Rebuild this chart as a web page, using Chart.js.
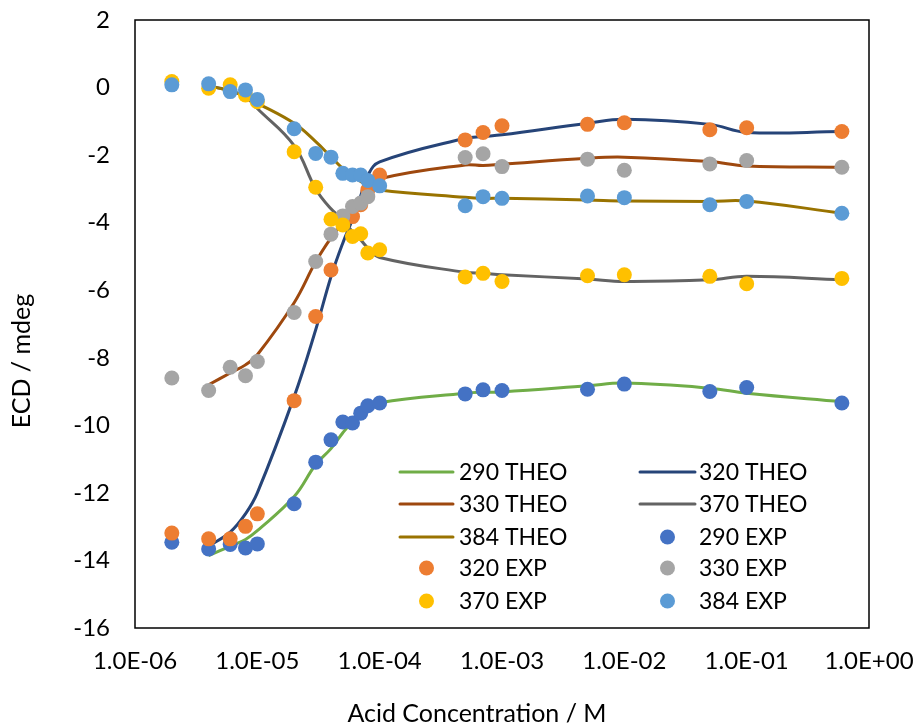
<!DOCTYPE html>
<html>
<head>
<meta charset="utf-8">
<script src="https://cdn.jsdelivr.net/npm/chart.js@4"></script>
<style>
  html, body { margin: 0; padding: 0; background: #fff; }
</style>
</head>
<body>
<canvas id="myChart" width="915" height="728"></canvas>
<script>
// acid concentration (M) of the measured points
const expConc = [2e-6, 4e-6, 6e-6, 8e-6, 1e-5, 2e-5, 3e-5, 4e-5, 5e-5, 6e-5, 7e-5, 8e-5, 1e-4,
                 5e-4, 7e-4, 1e-3, 5e-3, 1e-2, 5e-2, 1e-1, 0.6];
// acid concentration (M) of the fitted curves
const theoConc = [4e-6, 6e-6, 8e-6, 1e-5, 2e-5, 3e-5, 4e-5, 5e-5, 6e-5, 7e-5, 8e-5, 1e-4,
                  5e-4, 7e-4, 1e-3, 5e-3, 1e-2, 5e-2, 1e-1, 0.6];

const theo290 = [-13.86, -13.58, -13.38, -13.12, -12.11, -11.16, -10.69, -10.22, -9.89, -9.69, -9.54, -9.33,
                 -9.05, -9.02, -9.01, -8.83, -8.75, -8.90, -9.05, -9.30];
const theo320 = [-13.58, -13.16, -12.62, -12.0, -9.15, -7.17, -5.6, -4.6, -3.9, -3.2, -2.6, -2.2,
                 -1.50, -1.45, -1.40, -1.06, -0.94, -1.09, -1.33, -1.30];
const theo330 = [-8.80, -8.45, -8.21, -7.91, -6.37, -5.16, -4.45, -4.0, -3.6, -3.3, -3.0, -2.7,
                 -2.29, -2.31, -2.27, -2.09, -2.06, -2.19, -2.32, -2.36];
const theo370 = [0.05, -0.09, -0.27, -0.62, -1.72, -3.0, -3.59, -3.92, -4.27, -4.51, -4.75, -5.03,
                 -5.47, -5.50, -5.54, -5.67, -5.74, -5.69, -5.59, -5.69];
const theo384 = [0.05, -0.10, -0.27, -0.46, -1.06, -1.60, -2.05, -2.40, -2.62, -2.78, -2.90, -3.03,
                 -3.25, -3.28, -3.28, -3.33, -3.36, -3.37, -3.36, -3.72];

const exp290 = [-13.46, -13.66, -13.53, -13.63, -13.51, -12.32, -11.09, -10.43, -9.90, -9.93, -9.64, -9.42, -9.34,
                -9.07, -8.95, -8.97, -8.93, -8.78, -9.00, -8.88, -9.34];
const exp320 = [-13.19, -13.36, -13.36, -12.99, -12.62, -9.27, -6.78, -5.40, null, -3.82, -3.47, -3.03, -2.59,
                -1.55, -1.33, -1.13, -1.09, -1.04, -1.25, -1.19, -1.30];
const exp330 = [-8.60, -8.97, -8.28, -8.53, -8.11, -6.66, -5.15, -4.34, -3.80, -3.52, -3.42, -3.23, null,
                -2.07, -1.96, -2.34, -2.12, -2.45, -2.26, -2.16, -2.36];
const exp370 = [0.18, -0.02, 0.08, -0.22, -0.42, -1.90, -2.95, -3.90, -4.07, -4.41, -4.33, -4.90, -4.80,
                -5.61, -5.50, -5.74, -5.57, -5.54, -5.59, -5.81, -5.65];
const exp384 = [0.08, 0.11, -0.12, -0.07, -0.35, -1.22, -1.95, -2.06, -2.54, -2.59, -2.59, -2.75, -2.91,
                -3.50, -3.23, -3.28, -3.21, -3.26, -3.47, -3.37, -3.72];

const xTicks = [1e-6, 1e-5, 1e-4, 1e-3, 1e-2, 1e-1, 1];
const xTickLabels = ['1.0E-06', '1.0E-05', '1.0E-04', '1.0E-03', '1.0E-02', '1.0E-01', '1.0E+00'];
const xTitle = 'Acid Concentration / M';
const yTitle = 'ECD / mdeg';

const pairs = (xs, ys) => xs.map((x, i) => ({ x: x, y: ys[i] }));

const FONT = 'Lato';

function theoSet(label, ys, color) {
  return { label: label, data: pairs(theoConc, ys), showLine: true, borderColor: color,
           backgroundColor: color, borderWidth: 3, pointRadius: 0, tension: 0.4 };
}
function expSet(label, ys, color) {
  return { label: label, data: pairs(expConc, ys), showLine: false, backgroundColor: color,
           borderColor: color, borderWidth: 0, pointRadius: 7.5 };
}

const datasets = [
  theoSet('290 THEO', theo290, '#70AD47'),
  theoSet('320 THEO', theo320, '#264478'),
  theoSet('330 THEO', theo330, '#9E480E'),
  theoSet('370 THEO', theo370, '#636363'),
  theoSet('384 THEO', theo384, '#997300'),
  expSet('290 EXP', exp290, '#4472C4'),
  expSet('320 EXP', exp320, '#ED7D31'),
  expSet('330 EXP', exp330, '#A5A5A5'),
  expSet('370 EXP', exp370, '#FFC000'),
  expSet('384 EXP', exp384, '#5B9BD5')
];
// later series sit on top, as in the original
datasets.forEach((d, i) => { d.order = datasets.length - i; });

// plot frame, axis titles (Excel centres them on the whole chart) and a two-column legend
const frameLegend = {
  id: 'frameLegend',
  afterDraw(chart) {
    const ctx = chart.ctx, a = chart.chartArea;
    ctx.save();
    ctx.strokeStyle = '#000';
    ctx.lineWidth = 1.5;
    ctx.strokeRect(a.left, a.top, a.right - a.left, a.bottom - a.top);

    ctx.fillStyle = '#000';
    ctx.font = '25px ' + FONT;
    ctx.textAlign = 'center';
    ctx.textBaseline = 'middle';
    ctx.fillText(xTitle, 477, 714);
    ctx.save();
    ctx.translate(22, 361);
    ctx.rotate(-Math.PI / 2);
    ctx.fillText(yTitle, 0, 0);
    ctx.restore();

    const rowsY = [472, 504, 537, 568, 601];
    const cols = [{ x0: 400, x1: 453, tx: 459 }, { x0: 640, x1: 695, tx: 699 }];
    ctx.font = '23px ' + FONT;
    ctx.textAlign = 'left';
    chart.data.datasets.forEach((d, i) => {
      const c = cols[i % 2], y = rowsY[Math.floor(i / 2)];
      if (d.showLine) {
        ctx.strokeStyle = d.borderColor;
        ctx.lineWidth = 3;
        ctx.lineCap = 'round';
        ctx.beginPath(); ctx.moveTo(c.x0, y); ctx.lineTo(c.x1, y); ctx.stroke();
      } else {
        ctx.fillStyle = d.backgroundColor;
        ctx.beginPath(); ctx.arc((c.x0 + c.x1) / 2, y, 7.5, 0, Math.PI * 2); ctx.fill();
      }
      ctx.fillStyle = '#000';
      ctx.fillText(d.label, c.tx, y + 1);
    });
    ctx.restore();
  }
};

new Chart(document.getElementById('myChart').getContext('2d'), {
  type: 'scatter',
  data: { datasets: datasets },
  plugins: [frameLegend],
  options: {
    responsive: false,
    animation: false,
    devicePixelRatio: 1,
    layout: { padding: { top: 20, right: 46, left: 0, bottom: 0 } },
    plugins: { legend: { display: false }, tooltip: { enabled: false } },
    scales: {
      x: {
        type: 'logarithmic',
        min: 1e-6,
        max: 1,
        afterBuildTicks: (s) => { s.ticks = xTicks.map(v => ({ value: v })); },
        afterFit: (s) => { s.height = 100; s.paddingLeft = 0; s.paddingRight = 0; },
        grid: { display: false, drawTicks: false },
        border: { display: false },
        ticks: {
          padding: 19,
          color: '#000',
          font: { family: FONT, size: 24 },
          maxRotation: 0,
          autoSkip: false,
          callback: (v) => { const k = xTicks.indexOf(v); return k >= 0 ? xTickLabels[k] : ''; }
        },
        title: { display: false }
      },
      y: {
        min: -16,
        max: 2,
        afterFit: (s) => { s.width = 135; s.paddingTop = 0; s.paddingBottom = 0; },
        grid: { display: false, drawTicks: false },
        border: { display: false },
        ticks: { stepSize: 2, padding: 25, color: '#000', font: { family: FONT, size: 24 } },
        title: { display: false }
      }
    }
  }
});
</script>
</body>
</html>
